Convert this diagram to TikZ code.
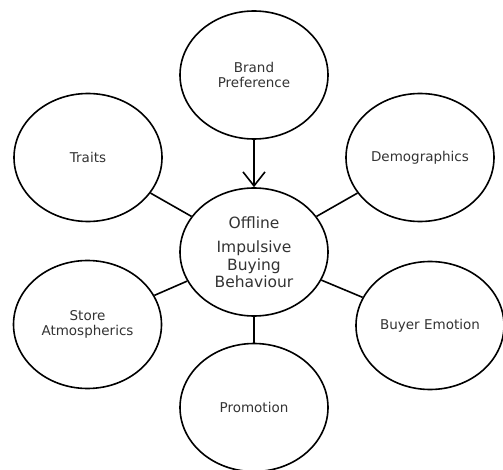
\documentclass[tikz,border=0pt]{standalone}
\usepackage{fontspec}
\setmainfont{DejaVu Sans}
\usetikzlibrary{shapes.geometric,positioning,arrows.meta}

\begin{document}
\begin{tikzpicture}[x=1pt, y=1pt, on grid, line width=1.6pt,
	main/.style = {draw,ellipse,minimum width=148pt,minimum height=128pt,inner sep=0pt,align=center,text=black!80,font=\fontsize{13.5}{15.5}\selectfont},
	big/.style = {font=\fontsize{15.5}{17.5}\selectfont}]
	\useasboundingbox (0,0) rectangle (503,-470);
	%Middle node
	\node[main,big] (centre) at (254,-252) {Offline\\[7pt]Impulsive\\Buying\\Behaviour};
	%Outer nodes
	\node[main] (brand) [above=177pt of centre] {Brand\\Preference};
	\node[main] (traits) [above left=94.5pt and 166pt of centre] {Traits};
	\node[main] (demo) [above right=94.5pt and 166pt of centre] {Demographics};
	\node[main] (store) [below left=72.5pt and 166.5pt of centre] {Store\\Atmospherics};
	\node[main] (emotion) [below right=73.5pt and 176pt of centre] {Buyer Emotion};
	\node[main] (promo) [below=155.5pt of centre] {Promotion};
	
	%Connectors
	\draw[-{Straight Barb[length=14pt,width=22pt]}] (brand) -- (centre); %Brand -> centre
	\draw (traits) -- (centre);
	\draw (demo) -- (centre);
	\draw (store) -- (centre);
	\draw (emotion) -- (centre);
	\draw (promo) -- (centre);
\end{tikzpicture}
\end{document}
